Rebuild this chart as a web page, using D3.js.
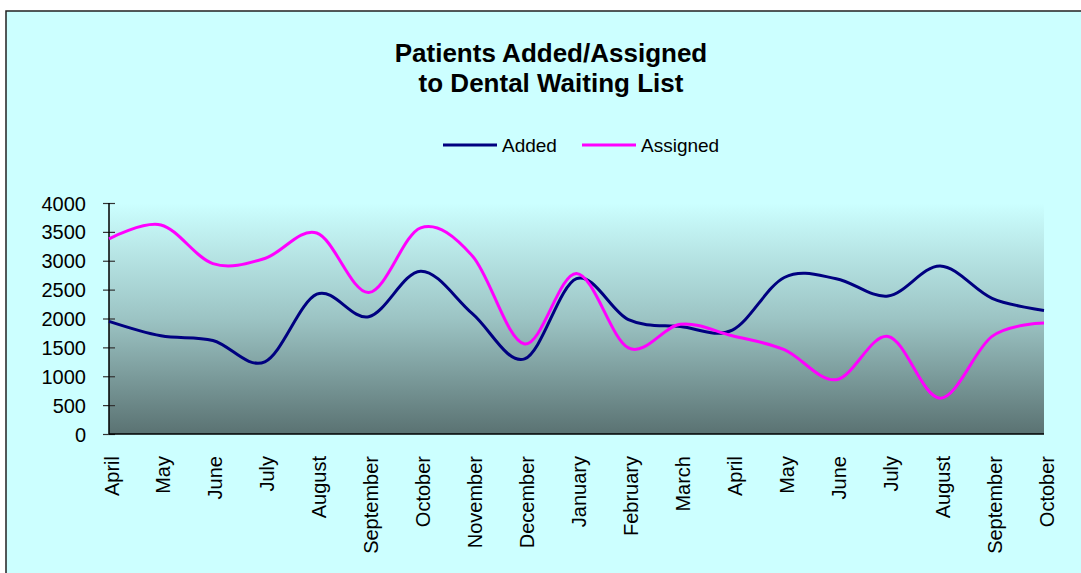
<!DOCTYPE html>
<html>
<head>
<meta charset="utf-8">
<script src="https://cdn.jsdelivr.net/npm/d3@7"></script>
<style>
  body { margin: 0; background: #fff; }
  svg { display: block; font-family: Arial, "Liberation Sans", sans-serif; }
</style>
</head>
<body>
<svg id="chart" width="1081" height="573"></svg>
<script>
const months = ["April","May","June","July","August","September","October","November","December","January","February","March","April","May","June","July","August","September","October"];
const added = [1950,1700,1620,1250,2420,2030,2820,2080,1300,2690,1980,1860,1800,2710,2690,2390,2910,2350,2140];
const assigned = [3380,3620,2950,3040,3480,2450,3570,3080,1560,2780,1490,1900,1700,1460,940,1690,620,1690,1920];
const yTicks = [0,500,1000,1500,2000,2500,3000,3500,4000];
const seriesNames = ["Added","Assigned"];
const seriesColors = ["#000080","#FF00FF"];

(function () {
const svg = d3.select("#chart");

// chart area background & border
svg.append("rect").attr("x",6).attr("y",11).attr("width",1100).attr("height",600)
  .attr("fill","#CCFFFF").attr("stroke","#222").attr("stroke-width",1.5);

const pLeft = 109, pRight = 1044, pTop = 203, pBottom = 434;

const x = d3.scalePoint().domain(d3.range(months.length)).range([pLeft, pRight]);
const y = d3.scaleLinear().domain([0, 4000]).range([pBottom, pTop]);

// gradient plot area
const defs = svg.append("defs");
const grad = defs.append("linearGradient").attr("id","plotGrad")
  .attr("x1",0).attr("y1",0).attr("x2",0).attr("y2",1);
grad.append("stop").attr("offset","0%").attr("stop-color","#CCFFFF");
grad.append("stop").attr("offset","50%").attr("stop-color","#9CC4C4");
grad.append("stop").attr("offset","100%").attr("stop-color","#5A7272");

svg.append("rect").attr("x",pLeft).attr("y",pTop).attr("width",pRight-pLeft).attr("height",pBottom-pTop)
  .attr("fill","url(#plotGrad)");

// title
const title = svg.append("text").attr("text-anchor","middle").attr("font-weight","bold")
  .attr("font-size",26).attr("fill","#000");
title.append("tspan").attr("x",551).attr("y",62).text("Patients Added/Assigned");
title.append("tspan").attr("x",551).attr("y",92).text("to Dental Waiting List");

// legend
const legendItems = [
  {name: seriesNames[0], color: seriesColors[0], x0: 443, x1: 497},
  {name: seriesNames[1], color: seriesColors[1], x0: 582, x1: 636}
];
legendItems.forEach(d => {
  svg.append("line").attr("x1",d.x0).attr("x2",d.x1).attr("y1",145).attr("y2",145)
    .attr("stroke",d.color).attr("stroke-width",3);
  svg.append("text").attr("x",d.x1+5).attr("y",152).attr("font-size",19).attr("fill","#000").text(d.name);
});

// y axis
const yAxis = d3.axisLeft(y).tickValues(yTicks).tickSize(0).tickPadding(0).tickFormat(d3.format("d"));
const gy = svg.append("g").attr("transform",`translate(${pLeft},0)`).call(yAxis);
gy.select(".domain").remove();
gy.selectAll(".tick text").attr("x",-23).attr("dy","0.35em").attr("font-size",20)
  .attr("font-family","Arial, 'Liberation Sans', sans-serif").attr("fill","#000");
gy.selectAll(".tick").append("line").attr("x1",-6).attr("x2",6).attr("stroke","#333").attr("stroke-width",1.2);
svg.append("line").attr("x1",pLeft).attr("x2",pLeft).attr("y1",pTop).attr("y2",pBottom)
  .attr("stroke","#000").attr("stroke-width",1.5);

// x axis
const xAxis = d3.axisBottom(x).tickSize(0).tickFormat(i => months[i]);
const gx = svg.append("g").attr("transform",`translate(0,${pBottom})`).call(xAxis);
gx.select(".domain").remove();
gx.selectAll(".tick text")
  .attr("transform","rotate(-90)")
  .attr("text-anchor","end")
  .attr("x",-22).attr("y",2).attr("dy","0.35em")
  .attr("font-size",20).attr("font-family","Arial, 'Liberation Sans', sans-serif").attr("fill","#000");
svg.append("line").attr("x1",pLeft).attr("x2",pRight).attr("y1",pBottom).attr("y2",pBottom)
  .attr("stroke","#000").attr("stroke-width",1.5);

// lines
const line = d3.line().x((d,i) => x(i)).y(d => y(d)).curve(d3.curveCardinal.tension(0));
[added, assigned].forEach((s, k) => {
  svg.append("path").datum(s).attr("d", line).attr("fill","none")
    .attr("stroke", seriesColors[k]).attr("stroke-width",3).attr("stroke-linejoin","round");
});
})();
</script>
</body>
</html>
